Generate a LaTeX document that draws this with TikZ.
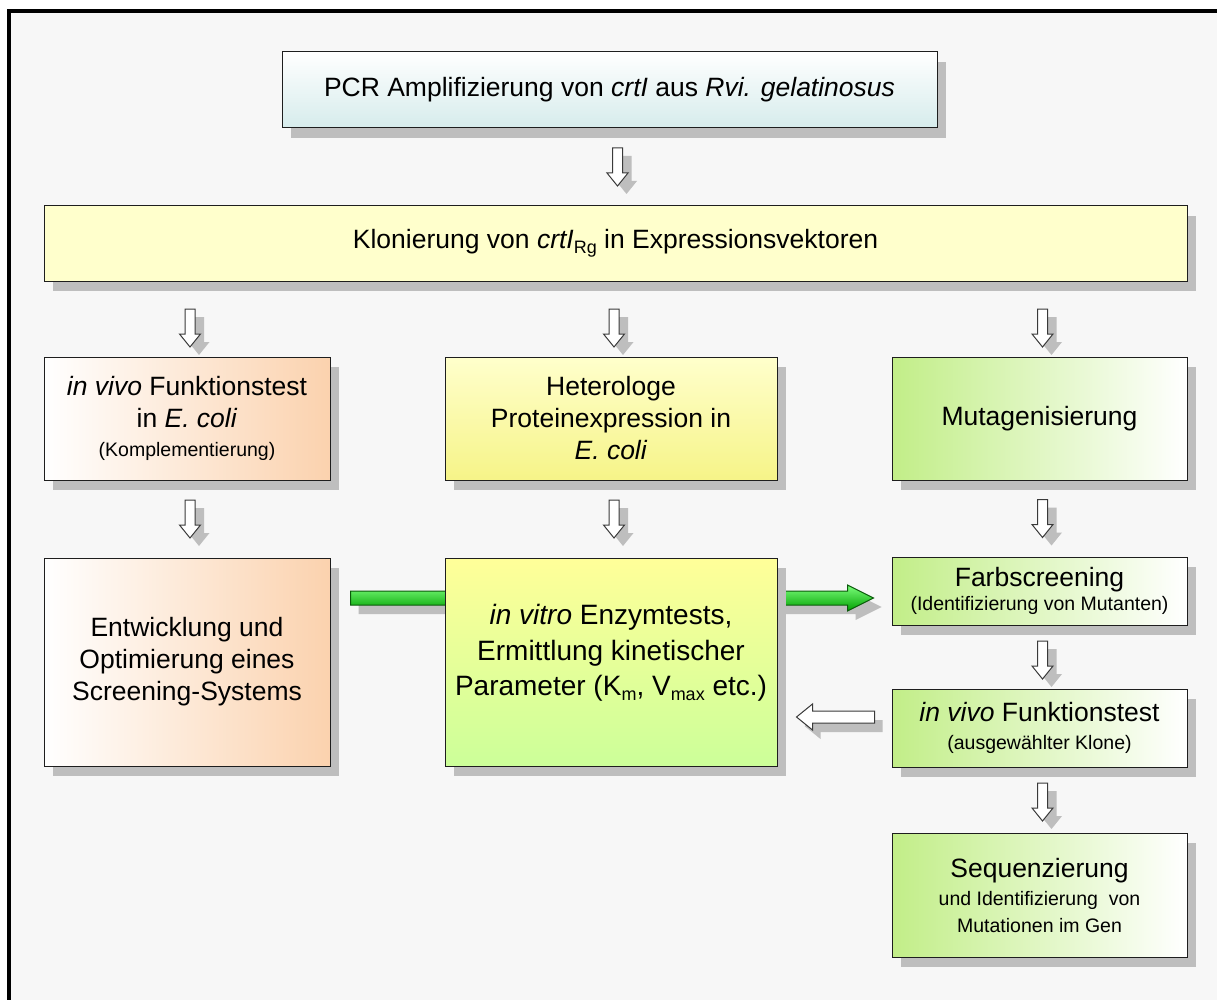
\documentclass[tikz,border=0pt]{standalone}
\usepackage{fontspec}
\setmainfont{Liberation Sans}
\usetikzlibrary{calc,shadows}
\definecolor{bgc}{HTML}{F7F7F7}
\definecolor{shadowc}{HTML}{BEBEBE}
\definecolor{boxline}{HTML}{1E1E1E}
\definecolor{cyanb}{HTML}{D6ECEC}
\definecolor{klonc}{HTML}{FFFFCC}
\definecolor{peach}{HTML}{FBD2AE}
\definecolor{yellowa}{HTML}{FFFFCC}
\definecolor{yellowb}{HTML}{F6F488}
\definecolor{yellowc}{HTML}{FFFF99}
\definecolor{lgreen}{HTML}{CCFF99}
\definecolor{greenl}{HTML}{C2EE88}
\definecolor{greenm}{HTML}{E6F8CC}
\definecolor{arrowline}{HTML}{3A3A3A}
\definecolor{gtop}{HTML}{7CFF7C}
\definecolor{gmid}{HTML}{11DD11}
\definecolor{gbot}{HTML}{00A000}
\definecolor{gline}{HTML}{0A5A0A}
\newcommand\bigf{\fontsize{26.5}{32}\selectfont}
\newcommand\vitrof{\fontsize{28}{35.5}\selectfont}
\newcommand\smallf{\fontsize{19.5}{24}\selectfont}
\newcommand\lowsub[1]{\raisebox{-5pt}{\fontsize{18}{18}\selectfont #1}}
\newcommand\harrowdown[1]{%
  \fill[shadowc] ($(#1)+(9,8)$) ++(-5,-19) -- ++(10,0) -- ++(0,25) -- ++(5.5,0) -- ++(-10.5,13) -- ++(-10.5,-13) -- ++(5.5,0) -- cycle;
  \draw[hollow] (#1) ++(-5,-19) -- ++(10,0) -- ++(0,25) -- ++(5.5,0) -- ++(-10.5,13) -- ++(-10.5,-13) -- ++(5.5,0) -- cycle;}
\tikzset{
  box/.style={draw=boxline, line width=1pt, inner sep=4pt, align=center, font=\bigf, text=black,
    drop shadow={shadow xshift=9pt, shadow yshift=-10pt, fill=shadowc, opacity=1}},
  hollow/.style={fill=white, draw=arrowline, line width=1pt, line join=miter},
}
\begin{document}
\begin{tikzpicture}[x=1pt,y=-1pt]
\useasboundingbox (0,0) rectangle (1217,1000);
\fill[white] (0,0) rectangle (1217,1000);
\fill[bgc] (11,13) rectangle (1217,1000);
\draw[line width=4pt] (9,1000) -- (9,11) -- (1217,11);

% top boxes
\node[box, minimum width=655, minimum height=76, top color=white, bottom color=cyanb] (pcr) at (609.5,90)
  {PCR Amplifizierung von \textit{crtI} aus \textit{Rvi. gelatinosus}};
\node[box, minimum width=1143, minimum height=75, fill=klonc] (klon) at (615.5,243.5)
  {Klonierung von \textit{crtI}\lowsub{Rg} in Expressionsvektoren};

% first row
\node[box, minimum width=286, minimum height=123, left color=white, right color=peach] (viv) at (187,418.5)
  {\textit{in vivo} Funktionstest\\in \textit{E. coli}\\[-3pt]{\smallf (Komplementierung)}};
\node[box, minimum width=332, minimum height=123, top color=yellowa, bottom color=yellowb] (het) at (611,418.5)
  {Heterologe\\Proteinexpression in\\\textit{E. coli}};
\node[box, minimum width=295, minimum height=123, left color=greenl, middle color=greenm, right color=white] (mut) at (1039.5,418.5)
  {Mutagenisierung};

% second row
\node[box, minimum width=286, minimum height=208, left color=white, right color=peach] (ent) at (187,662)
  {Entwicklung und\\Optimierung eines\\Screening-Systems};
\node[box, minimum width=295, minimum height=68, left color=greenl, middle color=greenm, right color=white] (farb) at (1039.5,591)
  {Farbscreening\\[-8pt]{\smallf (Identifizierung von Mutanten)}};
\node[box, minimum width=295, minimum height=78, left color=greenl, middle color=greenm, right color=white] (ivk) at (1039.5,728)
  {\textit{in vivo} Funktionstest\\[-4pt]{\smallf (ausgewählter Klone)}};
\node[box, minimum width=295, minimum height=124, left color=greenl, middle color=greenm, right color=white] (seq) at (1039.5,895)
  {Sequenzierung\\[-4pt]{\smallf und Identifizierung\ \ von}\\[-5pt]{\smallf Mutationen im Gen}};

% green arrow (behind the middle box)
\coordinate (gT) at ($(ent.east |- farb.west)+(20,7)$);
\coordinate (gH) at ($(farb.west)+(-18,7)$);
\fill[shadowc] ($(gT)+(8,2)$) -- ($(gH)+(-18,2)$) -- ($(gH)+(-18,-4)$) -- ($(gH)+(8,9)$) -- ($(gH)+(-18,22)$) -- ($(gH)+(-18,16)$) -- ($(gT)+(8,16)$) -- cycle;
\draw[draw=gline, line width=1pt, top color=gtop, middle color=gmid, bottom color=gbot]
  ($(gT)+(0,-7)$) -- ($(gH)+(-26,-7)$) -- ($(gH)+(-26,-13)$) -- (gH) -- ($(gH)+(-26,13)$) -- ($(gH)+(-26,7)$) -- ($(gT)+(0,7)$) -- cycle;

\node[box, minimum width=332, minimum height=208, top color=yellowc, bottom color=lgreen] (vitro) at (611,662) {};
\node[font=\vitrof, align=center, inner sep=0pt] (vitrotext) at ($(vitro.center)+(0,-9)$)
  {\textit{in vitro} Enzymtests,\\Ermittlung kinetischer\\Parameter (K\lowsub{m}, V\lowsub{max} etc.)};

% hollow down arrows
\coordinate (a0) at ($(pcr.south)!.5!(klon.north)+(5,0)$);
\coordinate (a1) at ($(viv.north |- klon.south)!.5!(viv.north)+(3,9)$);
\coordinate (a2) at ($(het.north |- klon.south)!.5!(het.north)+(3,9)$);
\coordinate (a3) at ($(mut.north |- klon.south)!.5!(mut.north)+(3,9)$);
\coordinate (b1) at ($(viv.south)!.5!(ent.north)+(3,0)$);
\coordinate (b2) at ($(het.south)!.5!(vitro.north)+(3,0)$);
\coordinate (b3) at ($(mut.south)!.5!(farb.north)+(3,0)$);
\coordinate (c1) at ($(farb.south)!.5!(ivk.north)+(3,3)$);
\coordinate (c2) at ($(ivk.south)!.5!(seq.north)+(3,2)$);
\foreach \c in {a0,a1,a2,a3,b1,b2,b3,c1,c2} {\harrowdown{\c}}

% hollow left arrow
\coordinate (la) at ($(vitro.east |- ivk.west)!.5!(ivk.west)+(1,-11)$);
\fill[shadowc] ($(la)+(8,9)$) ++(39,-6) -- ++(0,12) -- ++(-62,0) -- ++(0,7) -- ++(-16,-13) -- ++(16,-13) -- ++(0,7) -- cycle;
\draw[hollow] (la) ++(39,-6) -- ++(0,12) -- ++(-62,0) -- ++(0,7) -- ++(-16,-13) -- ++(16,-13) -- ++(0,7) -- cycle;
\end{tikzpicture}
\end{document}
